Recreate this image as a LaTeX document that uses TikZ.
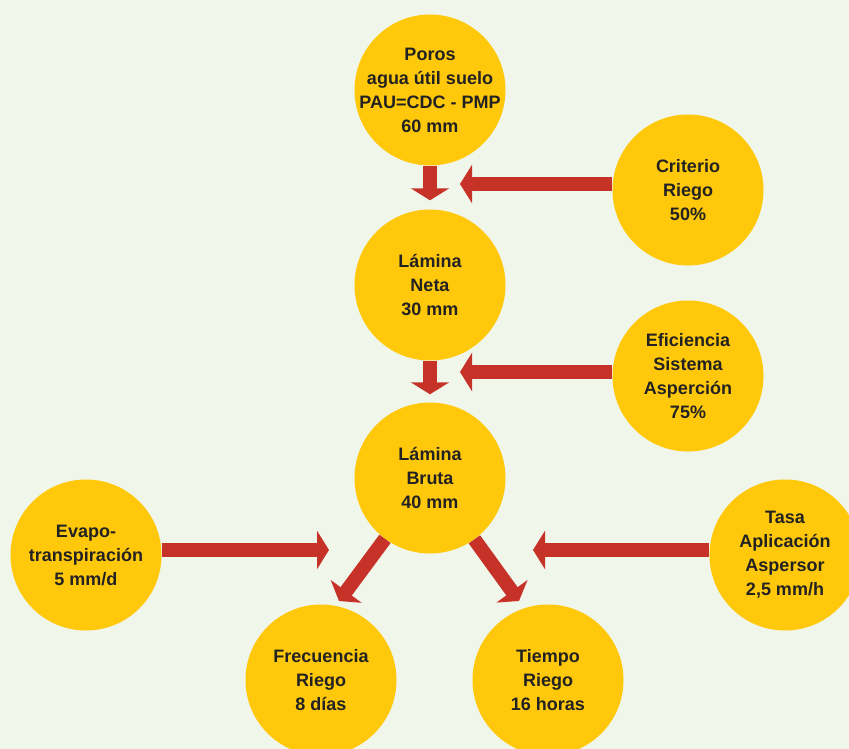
\documentclass[tikz,border=0pt]{standalone}
\usepackage{fontspec}
\setmainfont{Liberation Sans}
\usepackage{xcolor}
\usepackage{tikz}
\usetikzlibrary{arrows.meta}

\definecolor{fondo}{RGB}{240,246,234}
\definecolor{amarillo}{RGB}{255,200,10}
\definecolor{rojo}{RGB}{198,50,40}
\definecolor{texto}{RGB}{34,34,34}

\begin{document}
\begin{tikzpicture}[x=1pt, y=-1pt,
    bola/.style={circle, fill=amarillo, minimum size=151pt, inner sep=-20pt,
        align=center, text=texto, font=\bfseries\fontsize{18}{24}\selectfont},
    flecha/.style={draw=rojo, line width=14pt, -{Triangle[length=12pt, width=38pt]}}]
    \useasboundingbox (0,0) rectangle (849,749);
    \fill[fondo] (0,0) rectangle (849,749);
    \clip (0,0) rectangle (849,749);

    % circulos
    \node[bola] (poros) at (430,90) {Poros\\agua útil suelo\\PAU=CDC - PMP\\60 mm};
    \node[bola] (neta) at (430,285) {Lámina\\Neta\\30 mm};
    \node[bola] (bruta) at (430,478) {Lámina\\Bruta\\40 mm};
    \node[bola] (criterio) at (688,190) {Criterio\\Riego\\50\%};
    \node[bola] (eficiencia) at (688,376) {Eficiencia\\Sistema\\Asperción\\75\%};
    \node[bola] (evapo) at (86,555) {Evapo-\\transpiración\\5 mm/d};
    \node[bola] (tasa) at (785,555) {Tasa\\Aplicación\\Aspersor\\2,5 mm/h};
    \node[bola] (frecuencia) at (321,680) {Frecuencia\\Riego\\8 días};
    \node[bola] (tiempo) at (548,680) {Tiempo\\Riego\\16 horas};

    % puntas de flecha
    \coordinate (pcrit) at (460,184);
    \coordinate (pefic) at (460,372);
    \coordinate (pevapo) at (329,550);
    \coordinate (ptasa) at (533,550);
    \coordinate (pfrec) at (339,601);
    \coordinate (ptiempo) at (519,601);

    \draw[flecha, shorten >=9pt] (poros) -- (neta);
    \draw[flecha, shorten >=8pt] (neta) -- (bruta);
    \draw[flecha] (criterio.west |- pcrit) -- (pcrit);
    \draw[flecha] (eficiencia.west |- pefic) -- (pefic);
    \draw[flecha] (evapo.east |- pevapo) -- (pevapo);
    \draw[flecha] (tasa.west |- ptasa) -- (ptasa);
    \draw[flecha] (bruta) -- (pfrec);
    \draw[flecha] (bruta) -- (ptiempo);
\end{tikzpicture}
\end{document}
